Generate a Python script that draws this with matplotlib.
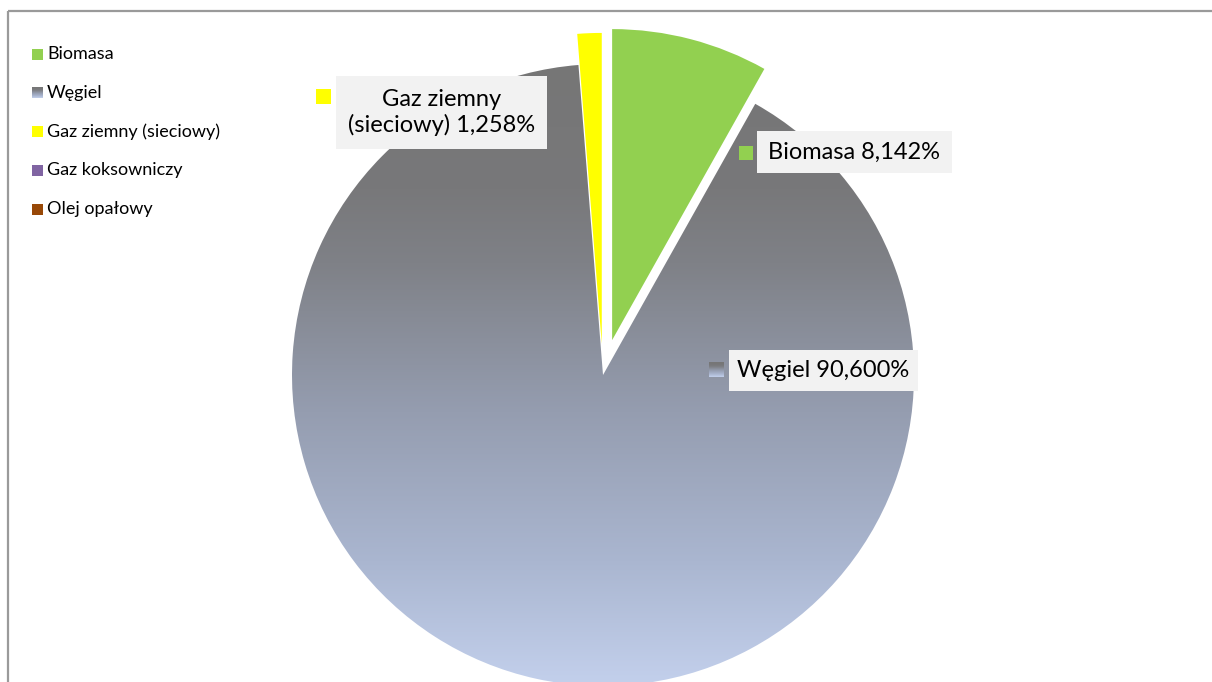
import numpy as np
import matplotlib
matplotlib.use("Agg")
import matplotlib.pyplot as plt
from matplotlib.patches import Rectangle
from matplotlib.colors import LinearSegmentedColormap

plt.rcParams['font.family'] = ['Lato', 'DejaVu Sans']

# ---- data ----
categories = ["Biomasa", "Węgiel", "Gaz ziemny (sieciowy)", "Gaz koksowniczy", "Olej opałowy"]
values = [8.142, 90.600, 1.258, 0.0, 0.0]
colors = ["#92d050", "#7f7f7f", "#ffff00", "#8064a2", "#984807"]
explode = [0.116, 0.0, 0.10, 0.0, 0.0]
label_texts = ["Biomasa 8,142%", "Węgiel 90,600%", "Gaz ziemny\n(sieciowy) 1,258%"]

W, H = 1212, 682
fig = plt.figure(figsize=(W / 100, H / 100), dpi=100)
fig.patch.set_facecolor("white")

# pie geometry in pixels
cx, cy, R = 603.0, 375.0, 311.0

ax = fig.add_axes([0, 0, 1, 1])
ax.axis("off")

wedges, _ = ax.pie(values, colors=colors, explode=explode, startangle=90,
                   counterclock=False, radius=1.0, center=(0, 0),
                   wedgeprops=dict(linewidth=0), normalize=True)

grad_cmap = LinearSegmentedColormap.from_list(
    "coal", [(0.0, "#767676"), (0.2, "#78787a"), (0.32, "#7f8187"),
             (0.56, "#959db0"), (0.8, "#aab6d0"), (1.0, "#c3d0ec")])
grad = np.linspace(0, 1, 256).reshape(-1, 1)
coal = wedges[1]
coal.set_facecolor("none")
im = ax.imshow(grad, cmap=grad_cmap, extent=(-1, 1, -1, 1), origin="upper",
               aspect="auto", zorder=coal.get_zorder())
im.set_clip_path(coal)
ax.set_xlim((0 - cx) / R, (W - cx) / R)
ax.set_ylim((cy - H) / R, cy / R)

# ---- overlay in pixel coordinates ----
ov = fig.add_axes([0, 0, 1, 1])
ov.axis("off")
ov.patch.set_alpha(0)

# outer frame
ov.add_patch(Rectangle((8, 11), 1400, 900, fill=False, edgecolor="#9a9a9a",
                       linewidth=1.6, clip_on=False))


def gradient_square(x0, y0, w, h):
    ov.imshow(grad, cmap=grad_cmap, extent=(x0, x0 + w, y0 + h, y0),
              origin="upper", aspect="auto", zorder=3)


# legend
leg_y0, leg_dy = 54, 38.8
for i, (cat, col) in enumerate(zip(categories, colors)):
    y = leg_y0 + i * leg_dy
    if i == 1:
        gradient_square(32, y - 5.5, 11, 11)
    else:
        ov.add_patch(Rectangle((32, y - 5.5), 11, 11, facecolor=col,
                               edgecolor="none", zorder=3))
    ov.text(47, y, cat, fontsize=13, va="center", ha="left", color="black")

# data labels: (box x0, y0, x1, y1), marker (x0, y0, size)
label_boxes = [(757, 131, 952, 173), (729, 350, 918, 391), (336, 76, 547, 149)]
label_markers = [(739, 146, 14), (709, 362, 15), (316, 89, 15)]
for k, (txt, box, mk) in enumerate(zip(label_texts, label_boxes, label_markers)):
    x0, y0, x1, y1 = box
    ov.add_patch(Rectangle((x0, y0), x1 - x0, y1 - y0, facecolor="#f2f2f2",
                           edgecolor="none", zorder=3))
    ov.text((x0 + x1) / 2, (y0 + y1) / 2, txt, fontsize=17, ha="center",
            va="center", color="black", linespacing=1.2, zorder=4)
    mx, my, ms = mk
    if k == 1:
        gradient_square(mx, my, ms, ms)
    else:
        ov.add_patch(Rectangle((mx, my), ms, ms, facecolor=colors[k],
                               edgecolor="none", zorder=3))
ov.set_xlim(0, W)
ov.set_ylim(H, 0)

fig.savefig("out.png", dpi=100, facecolor="white")
